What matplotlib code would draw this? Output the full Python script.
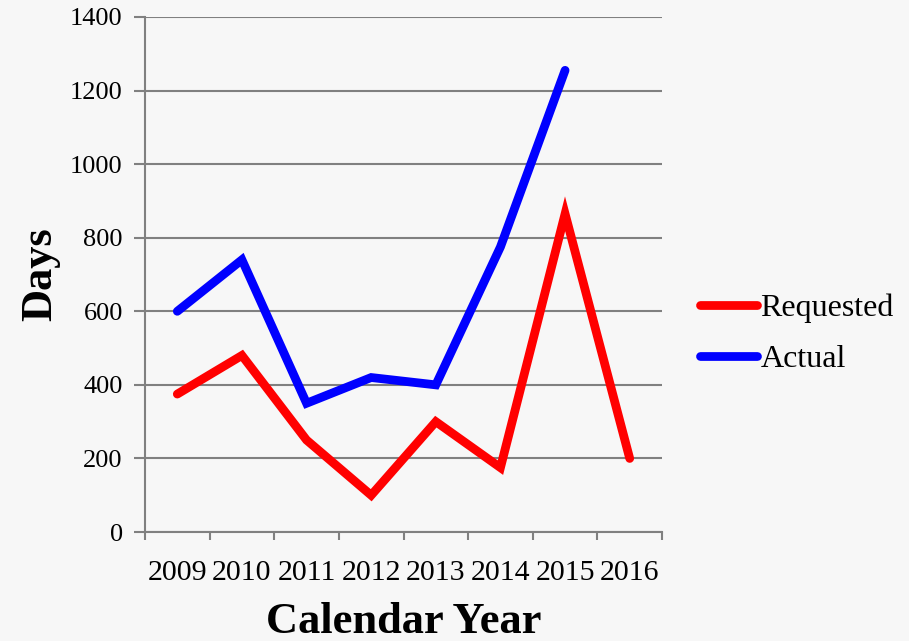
import numpy as np
import matplotlib.pyplot as plt

# data
years = ['2009', '2010', '2011', '2012', '2013', '2014', '2015', '2016']
requested = [375, 480, 250, 100, 300, 175, 865, 200]
actual = [600, 740, 350, 420, 400, 775, 1255]

plt.rcParams['font.family'] = ['Liberation Serif', 'DejaVu Serif']

fig = plt.figure(figsize=(9.09, 6.41), dpi=100, facecolor='#f7f7f7')
ax = fig.add_axes([0.1595, 0.170, 0.5688, 0.8035])
ax.set_facecolor('none')

x = np.arange(len(years))
ax.plot(x, requested, color='#ff0000', lw=6.3, solid_capstyle='round', solid_joinstyle='miter', label='Requested', zorder=3)
ax.plot(x[:len(actual)], actual, color='#0000ff', lw=6.3, solid_capstyle='round', solid_joinstyle='miter', label='Actual', zorder=3)

ax.set_xlim(-0.5, len(years) - 0.5)
ax.set_ylim(0, 1400)
ax.set_yticks(range(0, 1401, 200))
ax.set_xticks(x)
ax.set_xticklabels(years, fontsize=21.5)
ax.set_xticks(np.arange(-0.5, len(years), 1), minor=True)
ax.tick_params(axis='x', which='major', length=0, pad=20)
ax.tick_params(axis='x', which='minor', length=6, width=1.5, color='#808080')
ax.tick_params(axis='y', length=8, width=1.5, color='#808080', labelsize=19, pad=8)

ax.grid(axis='y', color='#808080', lw=1.5)
ax.set_axisbelow(True)
for s in ['top', 'right']:
    ax.spines[s].set_visible(False)
for s in ['left', 'bottom']:
    ax.spines[s].set_color('#808080')
    ax.spines[s].set_linewidth(1.5)

ax.set_xlabel('Calendar Year', fontsize=32, fontweight='bold', labelpad=12)
ax.set_ylabel('Days', fontsize=32, fontweight='bold')
ax.yaxis.set_label_coords(-0.164, 0.5)

ax.legend(loc='center left', bbox_to_anchor=(1.073, 0.385), frameon=False, fontsize=23,
          handlelength=1.8, handletextpad=0.1, labelspacing=0.68, borderpad=0, borderaxespad=0)

fig.savefig('out.png', dpi=100, facecolor=fig.get_facecolor())
